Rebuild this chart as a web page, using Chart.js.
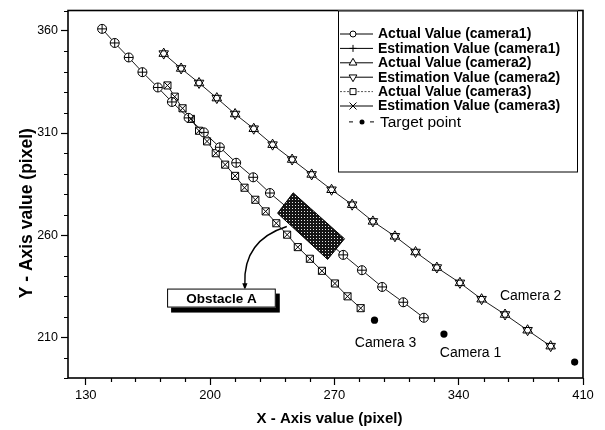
<!DOCTYPE html>
<html>
<head>
<meta charset="utf-8">
<style>
  html, body { margin: 0; padding: 0; background: #fff; }
  #wrap { width: 605px; height: 430px; }
</style>
<script src="https://cdn.jsdelivr.net/npm/chart.js@4.4.0/dist/chart.umd.min.js"></script>
</head>
<body>
<div id="wrap"><canvas id="c" width="605" height="430"></canvas></div>
<script>
// ---- Data (image-plane coordinates, pixels) ----
const cam1X = [139.2, 146.3, 154.2, 161.9, 170.6, 178.5, 187.9, 196.5, 205.5, 214.7, 224.3, 233.7, 275.0, 285.5, 296.9, 308.8, 320.4];
const cam1Y = [361.0, 354.1, 347.0, 339.8, 332.3, 325.2, 317.4, 310.3, 303.0, 295.4, 288.3, 280.6, 250.3, 242.8, 234.6, 227.1, 219.5];
const est1X = [139.2, 146.3, 154.2, 161.9, 170.6, 178.5, 187.9, 196.5, 205.5, 214.7, 224.3, 233.7, 275.0, 285.5, 296.9, 308.8, 320.4];
const est1Y = [361.0, 354.1, 347.0, 339.8, 332.3, 325.2, 317.4, 310.3, 303.0, 295.4, 288.3, 280.6, 250.3, 242.8, 234.6, 227.1, 219.5];

const cam2X = [173.9, 183.7, 193.8, 203.8, 214.1, 224.6, 235.2, 246.2, 257.2, 268.4, 280.0, 291.7, 304.1, 315.7, 327.7, 340.7, 352.9, 366.1, 378.8, 391.8];
const cam2Y = [348.9, 341.6, 334.5, 327.1, 319.3, 312.1, 304.3, 297.0, 289.7, 282.2, 274.9, 266.7, 259.4, 251.7, 244.1, 236.6, 228.6, 221.1, 213.4, 205.6];
const est2X = [173.9, 183.7, 193.8, 203.8, 214.1, 224.6, 235.2, 246.2, 257.2, 268.4, 280.0, 291.7, 304.1, 315.7, 327.7, 340.7, 352.9, 366.1, 378.8, 391.8];
const est2Y = [348.9, 341.6, 334.5, 327.1, 319.3, 312.1, 304.3, 297.0, 289.7, 282.2, 274.9, 266.7, 259.4, 251.7, 244.1, 236.6, 228.6, 221.1, 213.4, 205.6];

const cam3X = [176.0, 180.1, 184.5, 189.2, 193.8, 198.3, 203.2, 208.5, 214.1, 219.4, 225.5, 231.3, 237.3, 243.4, 249.4, 256.2, 263.0, 270.3, 277.4, 284.8];
const cam3Y = [333.3, 327.8, 322.1, 316.9, 311.1, 305.9, 300.1, 294.5, 289.0, 283.2, 277.3, 271.6, 265.8, 260.2, 254.1, 248.4, 242.5, 236.3, 230.0, 224.2];
const est3X = [176.0, 180.1, 184.5, 189.2, 193.8, 198.3, 203.2, 208.5, 214.1, 219.4, 225.5, 231.3, 237.3, 243.4, 249.4, 256.2, 263.0, 270.3, 277.4, 284.8];
const est3Y = [333.3, 327.8, 322.1, 316.9, 311.1, 305.9, 300.1, 294.5, 289.0, 283.2, 277.3, 271.6, 265.8, 260.2, 254.1, 248.4, 242.5, 236.3, 230.0, 224.2];

const targetX = [331.7, 292.6, 405.3];
const targetY = [211.5, 218.3, 197.8];

// Axis ranges and tick labels
const xRange = [120, 410];
const yRange = [190, 370];
const xTickLabels = [130, 200, 270, 340, 410];
const yTickLabels = [210, 260, 310, 360];
const xMinorStep = 14;
const yMinorStep = 10;

// Annotations (in axis units)
const cameraLabels = [
  { text: 'Camera 2', x: 363.2, y: 230.0 },
  { text: 'Camera 3', x: 281.5, y: 207.3 },
  { text: 'Camera 1', x: 329.4, y: 202.2 }
];
const obstacleCorners = [[246.8, 280.7], [275.7, 258.2], [266.2, 248.1], [238.0, 270.7]];
const obstacleArrow = { start: [243.2, 264.2], control: [218.5, 257.4], tip: [219.6, 233.5] };
const obstacleBox = { text: 'Obstacle A', x0: 175.8, y0: 233.8, x1: 237.0, y1: 224.5 };

const FONT = "'Liberation Sans', Arial, Helvetica, sans-serif";
const pts = (xs, ys) => xs.map((v, i) => ({ x: v, y: ys[i] }));

// ---- Marker drawing shared by the legend ----
function drawMarker(ctx, style, px, py, r, rot) {
  ctx.save();
  ctx.translate(px, py);
  if (rot) ctx.rotate(rot * Math.PI / 180);
  ctx.beginPath();
  if (style === 'circle') {
    ctx.arc(0, 0, r, 0, Math.PI * 2);
    ctx.fillStyle = '#fff'; ctx.fill(); ctx.stroke();
  } else if (style === 'cross') {
    ctx.moveTo(-r, 0); ctx.lineTo(r, 0); ctx.moveTo(0, -r); ctx.lineTo(0, r); ctx.stroke();
  } else if (style === 'crossRot') {
    ctx.moveTo(-r, -r); ctx.lineTo(r, r); ctx.moveTo(r, -r); ctx.lineTo(-r, r); ctx.stroke();
  } else if (style === 'triangle') {
    ctx.moveTo(0, -r); ctx.lineTo(r * 0.866, r * 0.5); ctx.lineTo(-r * 0.866, r * 0.5); ctx.closePath();
    ctx.fillStyle = '#fff'; ctx.fill(); ctx.stroke();
  } else if (style === 'rect') {
    ctx.rect(-r, -r, 2 * r, 2 * r); ctx.fillStyle = '#fff'; ctx.fill(); ctx.stroke();
  } else if (style === 'dot') {
    ctx.arc(0, 0, r, 0, Math.PI * 2); ctx.fillStyle = '#000'; ctx.fill();
  }
  ctx.restore();
}

function hatchPattern(ctx) {
  const t = document.createElement('canvas');
  t.width = 3; t.height = 3;
  const g = t.getContext('2d');
  g.fillStyle = '#151515'; g.fillRect(0, 0, 3, 3);
  g.fillStyle = '#e8e8e8'; g.fillRect(1, 1, 1, 1);
  return ctx.createPattern(t, 'repeat');
}

const isMajor = (list, v) => list.some(m => Math.abs(m - v) < 1e-6);

// ---- Plugin: frame, minor ticks, axis titles, annotations, legend ----
const decor = {
  id: 'decor',
  afterDatasetsDraw(chart) {
    const { ctx, scales: { x, y } } = chart;
    const P = (vx, vy) => [x.getPixelForValue(vx), y.getPixelForValue(vy)];
    ctx.save();
    ctx.strokeStyle = '#000';

    // obstacle block
    ctx.beginPath();
    obstacleCorners.forEach(([vx, vy], i) => {
      const [px, py] = P(vx, vy);
      if (i) ctx.lineTo(px, py); else ctx.moveTo(px, py);
    });
    ctx.closePath();
    ctx.fillStyle = hatchPattern(ctx);
    ctx.fill();
    ctx.lineWidth = 1;
    ctx.stroke();

    // curved arrow to the label
    const [sx, sy] = P(...obstacleArrow.start);
    const [cx, cy] = P(...obstacleArrow.control);
    const [tx, ty] = P(...obstacleArrow.tip);
    ctx.beginPath();
    ctx.moveTo(sx, sy);
    ctx.quadraticCurveTo(cx, cy, tx, ty - 5);
    ctx.lineWidth = 1.4;
    ctx.stroke();
    ctx.beginPath();
    ctx.moveTo(tx - 2.6, ty - 6);
    ctx.lineTo(tx + 2.6, ty - 6);
    ctx.lineTo(tx, ty + 1);
    ctx.closePath();
    ctx.fillStyle = '#000';
    ctx.fill();

    // label box with drop shadow
    const [bx0, by0] = P(obstacleBox.x0, obstacleBox.y0);
    const [bx1, by1] = P(obstacleBox.x1, obstacleBox.y1);
    ctx.fillStyle = '#000';
    ctx.fillRect(bx0 + 4, by0 + 5, bx1 - bx0, by1 - by0);
    ctx.fillStyle = '#fff';
    ctx.fillRect(bx0, by0, bx1 - bx0, by1 - by0);
    ctx.lineWidth = 1;
    ctx.strokeRect(bx0 + 0.5, by0 + 0.5, bx1 - bx0 - 1, by1 - by0 - 1);
    ctx.fillStyle = '#000';
    ctx.font = 'bold 13.5px ' + FONT;
    ctx.textAlign = 'center';
    ctx.textBaseline = 'middle';
    ctx.fillText(obstacleBox.text, (bx0 + bx1) / 2, (by0 + by1) / 2 + 1);

    // camera labels
    ctx.font = '14px ' + FONT;
    ctx.textAlign = 'left';
    cameraLabels.forEach(l => {
      const [px, py] = P(l.x, l.y);
      ctx.fillText(l.text, px, py);
    });
    ctx.restore();
  },
  afterDraw(chart) {
    const { ctx, chartArea: a, scales: { x, y } } = chart;
    ctx.save();
    ctx.strokeStyle = '#000';

    // frame
    ctx.lineWidth = 1.6;
    ctx.strokeRect(a.left, a.top, a.right - a.left, a.bottom - a.top);

    // minor ticks
    ctx.lineWidth = 1.2;
    ctx.beginPath();
    x.ticks.forEach(t => {
      if (isMajor(xTickLabels, t.value)) return;
      const px = Math.round(x.getPixelForValue(t.value)) + 0.5;
      ctx.moveTo(px, a.bottom); ctx.lineTo(px, a.bottom + 4);
    });
    y.ticks.forEach(t => {
      if (isMajor(yTickLabels, t.value)) return;
      const py = Math.round(y.getPixelForValue(t.value)) + 0.5;
      ctx.moveTo(a.left, py); ctx.lineTo(a.left - 4, py);
    });
    ctx.stroke();

    // axis titles
    ctx.fillStyle = '#000';
    ctx.textAlign = 'center';
    ctx.textBaseline = 'alphabetic';
    ctx.font = 'bold 15px ' + FONT;
    ctx.fillText('X - Axis value (pixel)', (a.left + a.right) / 2 + 4, a.bottom + 45);
    ctx.save();
    ctx.translate(a.left - 36, (a.top + a.bottom) / 2 + 19);
    ctx.rotate(-Math.PI / 2);
    ctx.font = 'bold 17.5px ' + FONT;
    ctx.fillText('Y - Axis value (pixel)', 0, 0);
    ctx.restore();

    // legend
    const L = a.right - 245, T = a.top, R = a.right - 5, B = a.top + 162;
    ctx.fillStyle = '#fff';
    ctx.fillRect(L, T, R - L, B - T);
    ctx.lineWidth = 1;
    ctx.strokeRect(L + 0.5, T + 0.5, R - L - 1, B - T - 1);
    const rows = chart.data.datasets.map(d => d.legendStyle);
    rows.forEach((s, i) => {
      const ry = T + 23.5 + i * 14.4 + (i === 6 ? 1.5 : 0);
      ctx.strokeStyle = s.lineColor;
      ctx.lineWidth = 1;
      ctx.setLineDash(s.dash);
      ctx.beginPath();
      if (s.marker === 'dot') {
        ctx.moveTo(L + 11, ry); ctx.lineTo(L + 15, ry);
        ctx.moveTo(L + 32, ry); ctx.lineTo(L + 36, ry);
      } else {
        ctx.moveTo(L + 2, ry); ctx.lineTo(L + 35, ry);
      }
      ctx.stroke();
      ctx.setLineDash([]);
      ctx.strokeStyle = '#000';
      drawMarker(ctx, s.marker, L + (s.marker === 'dot' ? 24 : 15), ry, s.size, s.rot);
      ctx.fillStyle = '#000';
      ctx.textAlign = 'left';
      ctx.textBaseline = 'middle';
      ctx.font = s.bold ? 'bold 14px ' + FONT : '15.5px ' + FONT;
      ctx.fillText(chart.data.datasets[i].label, L + (s.marker === 'dot' ? 42 : 40), ry + 0.5);
    });
    ctx.restore();
  }
};

// ---- Chart ----
const lineColor = '#000';
const actual = (label, xs, ys, style, r, legendStyle, dash) => ({
  label, data: pts(xs, ys), showLine: true,
  borderColor: lineColor, borderWidth: 0.9, borderDash: dash || [],
  pointStyle: style, pointRadius: r, pointHoverRadius: r,
  pointBackgroundColor: '#fff', pointBorderColor: '#000', pointBorderWidth: 1,
  order: 2, legendStyle
});
const estimate = (label, xs, ys, style, r, rot, legendStyle) => ({
  label, data: pts(xs, ys), showLine: false,
  pointStyle: style, pointRadius: r, pointHoverRadius: r, pointRotation: rot || 0,
  pointBackgroundColor: 'rgba(0,0,0,0)', pointBorderColor: '#000', pointBorderWidth: 1,
  borderColor: '#000', order: 1, legendStyle
});

new Chart(document.getElementById('c'), {
  type: 'scatter',
  data: {
    datasets: [
      actual('Actual Value (camera1)', cam1X, cam1Y, 'circle', 4.5,
        { marker: 'circle', size: 3, bold: true, dash: [], lineColor: '#000' }),
      estimate('Estimation Value (camera1)', est1X, est1Y, 'cross', 4.5, 0,
        { marker: 'cross', size: 3.5, bold: true, dash: [], lineColor: '#000' }),
      actual('Actual Value (camera2)', cam2X, cam2Y, 'triangle', 5.5,
        { marker: 'triangle', size: 4.5, bold: true, dash: [], lineColor: '#000' }),
      estimate('Estimation Value (camera2)', est2X, est2Y, 'triangle', 5.5, 180,
        { marker: 'triangle', size: 4.5, rot: 180, bold: true, dash: [], lineColor: '#000' }),
      actual('Actual Value (camera3)', cam3X, cam3Y, 'rect', 5,
        { marker: 'rect', size: 3, bold: true, dash: [2, 1.5], lineColor: '#555' }),
      estimate('Estimation Value (camera3)', est3X, est3Y, 'crossRot', 5, 0,
        { marker: 'crossRot', size: 3.5, bold: true, dash: [], lineColor: '#000' }),
      {
        label: 'Target point', data: pts(targetX, targetY), showLine: false,
        pointStyle: 'circle', pointRadius: 3.6, pointHoverRadius: 3.6,
        pointBackgroundColor: '#000', pointBorderColor: '#000', pointBorderWidth: 0,
        order: 0,
        legendStyle: { marker: 'dot', size: 2.5, bold: false, dash: [], lineColor: '#000' }
      }
    ]
  },
  options: {
    responsive: false,
    animation: false,
    devicePixelRatio: 1,
    layout: { padding: { left: 0, right: 22, top: 10, bottom: 0 } },
    plugins: { legend: { display: false }, tooltip: { enabled: false } },
    scales: {
      x: {
        type: 'linear', min: xRange[0], max: xRange[1],
        afterBuildTicks(s) {
          const t = [];
          for (let v = xTickLabels[0]; v <= xRange[1] + 1e-6; v += xMinorStep) t.push({ value: v });
          s.ticks = t;
        },
        afterFit(s) { s.height = 52; },
        border: { display: false },
        grid: {
          drawOnChartArea: false, drawTicks: true, tickLength: 7, tickWidth: 1.2,
          tickColor: c => isMajor(xTickLabels, c.tick.value) ? '#000' : 'rgba(0,0,0,0)'
        },
        ticks: {
          autoSkip: false, maxRotation: 0, padding: 3, color: '#000',
          font: { family: FONT, size: 13 },
          callback: v => isMajor(xTickLabels, v) ? String(v) : ''
        }
      },
      y: {
        type: 'linear', min: yRange[0], max: yRange[1],
        afterBuildTicks(s) {
          const t = [];
          for (let v = yRange[0]; v <= yRange[1] + 1e-6; v += yMinorStep) t.push({ value: v });
          s.ticks = t;
        },
        afterFit(s) { s.width = 68; },
        border: { display: false },
        grid: {
          drawOnChartArea: false, drawTicks: true, tickLength: 7, tickWidth: 1.2,
          tickColor: c => isMajor(yTickLabels, c.tick.value) ? '#000' : 'rgba(0,0,0,0)'
        },
        ticks: {
          autoSkip: false, padding: 3, color: '#000',
          font: { family: FONT, size: 12.5 },
          callback: v => isMajor(yTickLabels, v) ? String(v) : ''
        }
      }
    }
  },
  plugins: [decor]
});
</script>
</body>
</html>
